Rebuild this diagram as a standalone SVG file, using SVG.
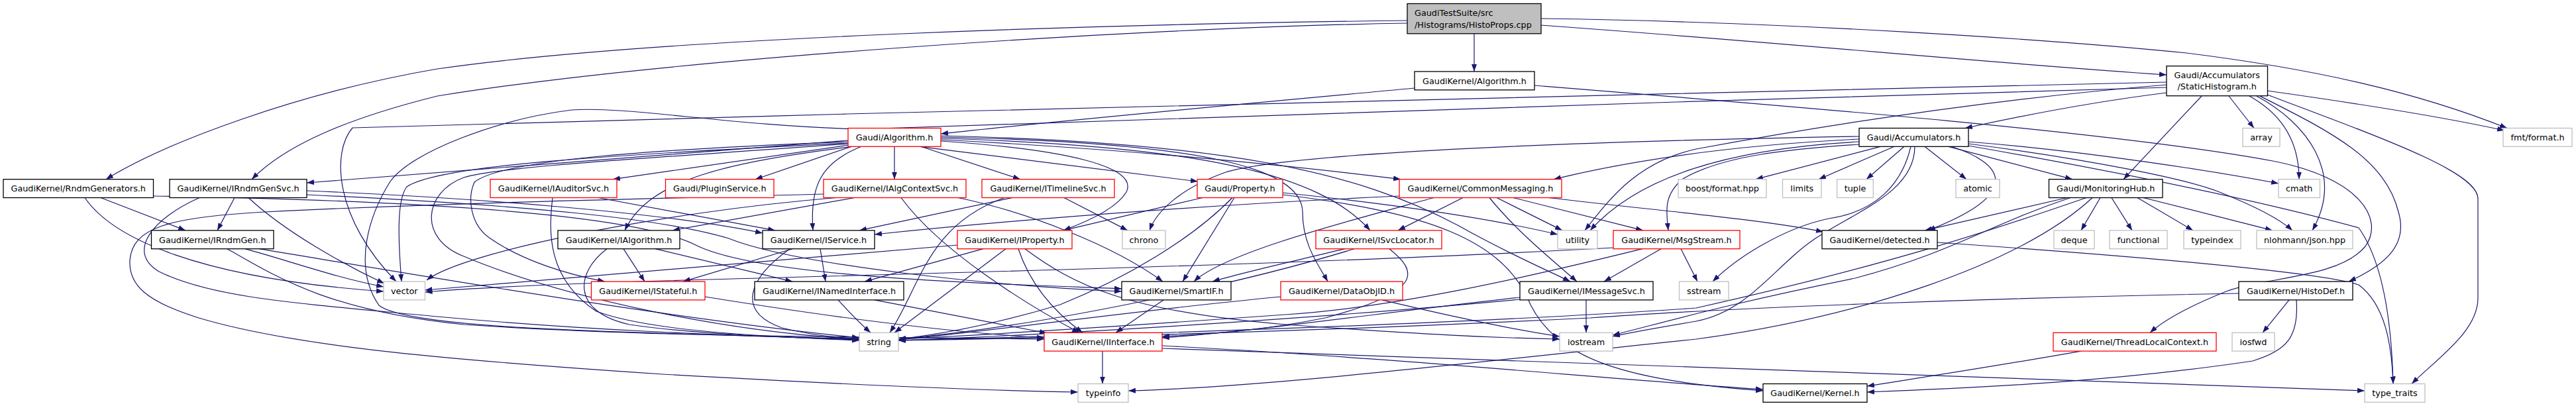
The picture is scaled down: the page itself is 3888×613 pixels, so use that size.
<svg xmlns="http://www.w3.org/2000/svg" width="3888" height="613" viewBox="0 0 3888 613">
<style>
.node rect{fill:#fff;stroke:#000;stroke-width:1.3}
.node.r rect{stroke:#ff0000}
.node.g rect{stroke:#bfbfbf}
.node.s rect{fill:#bfbfbf}
text{font-family:"DejaVu Sans",sans-serif;font-size:12.8px;fill:#000;text-anchor:middle}
.l text{text-anchor:start}
#edges path{fill:none;stroke:#191970;stroke-width:1.2;marker-end:url(#a)}
</style>
<defs>
<marker id="a" markerUnits="userSpaceOnUse" markerWidth="11" markerHeight="8" refX="11" refY="4" orient="auto">
<path d="M0,0 L11,4 L0,8 z" fill="#191970"/>
</marker>
</defs>
<rect width="3888" height="613" fill="#fff"/>
<g id="edges">
<path d="M2225,51 L2225,108"/>
<path d="M2124,31 C1700,36 1000,55 660,104 C450,140 250,215 160,270.7"/>
<path d="M2124,35 C1700,42 1000,90 660,145 C520,180 430,220 380,270.7"/>
<path d="M2326,38 C2700,65 3000,95 3270,113"/>
<path d="M2326,28 C2700,33 3100,60 3300,80 C3500,105 3650,140 3784,193.5"/>
<path d="M2135,133 C1900,155 1600,182 1420,202"/>
<path d="M2316,129 C2700,160 3200,200 3430,243 C3560,268 3600,330 3570,372 C3530,420 3420,418 3360,440 C3310,460 3270,480 3245,502.3"/>
<path d="M3270,140 C3150,155 3050,175 2966,193.5"/>
<path d="M3323,145 L3205,270.7"/>
<path d="M3364,145 L3402,193.5"/>
<path d="M3395,145 C3440,170 3470,210 3470,270.7"/>
<path d="M3406,145 C3480,185 3540,260 3490,347.9"/>
<path d="M3411,145 C3520,200 3600,240 3620,320 C3635,370 3600,400 3545,425.1"/>
<path d="M3422,143 C3600,210 3740,260 3740,300 L3740,450 C3740,500 3680,540 3640,579.5"/>
<path d="M3422,137 C3550,155 3680,175 3780,197"/>
<path d="M3270,128 C3000,150 2750,190 2560,225 C2470,245 2430,300 2392,347.9"/>
<path d="M3270,124 C2600,140 1500,165 1280,172 C1000,180 700,188 532,193 C500,230 505,330 598,425.1"/>
<path d="M3270,132 C2600,150 1500,188 1300,195 C1100,190 950,160 863,166 C750,180 620,230 589,274 C560,320 530,400 572,461 C620,500 1000,502 1297,512"/>
<path d="M1280,212 C1000,235 700,255 463,276"/>
<path d="M1281,216 C900,235 660,250 614,282 C600,300 600,350 606,425.1"/>
<path d="M1281,217 C1000,238 760,250 700,268 C640,290 630,360 700,387 C850,450 1100,502 1297,512"/>
<path d="M1281,219 L925,270.7"/>
<path d="M1285,221.3 L1140,270.7"/>
<path d="M1350,221.3 L1350,270.7"/>
<path d="M1390,221.3 L1540,270.7"/>
<path d="M1388,221.3 L1808,274"/>
<path d="M1420,213 C1600,225 1720,250 1700,290 C1685,315 1640,335 1605,347.9"/>
<path d="M1420,211 C1700,225 1950,250 2114,270.7"/>
<path d="M1420,209 C1800,220 1990,260 2068,347.9"/>
<path d="M1420,207 C1800,215 1965,250 1966,320 C1966,370 1990,400 2004,425.1"/>
<path d="M1420,205 C1850,215 2050,260 2200,340 C2280,385 2340,410 2370,425.1"/>
<path d="M1286,221.3 C1100,245 980,270 943,347.9"/>
<path d="M1300,221.3 C1240,245 1222,280 1227,347.9"/>
<path d="M1281,214 C1000,225 760,240 716,275 C705,300 710,340 740,360 C790,395 860,415 913,425.1"/>
<path d="M354,298.5 L328,347.9"/>
<path d="M375,298.5 C430,350 520,400 580,428"/>
<path d="M301,298.5 C230,330 190,380 240,410 C320,450 450,458 660,478 C900,500 1100,506 1297,513"/>
<path d="M463,288 C700,298 1000,320 1151,352"/>
<path d="M463,294 C800,310 1000,330 1100,360 C1200,400 1500,432 1693,440"/>
<path d="M152,298.5 L280,347.9"/>
<path d="M128,298.5 C170,360 300,420 579,440"/>
<path d="M231.5,296 C600,302 950,320 1050,370 C1150,420 1500,428 1693,436"/>
<path d="M370,375.7 C440,395 510,420 579,433"/>
<path d="M343,375.7 C420,420 500,470 700,490 C1000,510 1300,508 1576,512"/>
<path d="M391,375.7 C600,410 1000,480 1297,510"/>
<path d="M903,298.5 L1170,347.9"/>
<path d="M834,298.5 C828,350 825,420 900,470 C980,500 1150,508 1297,514"/>
<path d="M1290,298.5 L1015,347.9"/>
<path d="M1262,298.5 C1000,320 700,380 644,423"/>
<path d="M1446,298.5 C1550,320 1680,370 1755,425.1"/>
<path d="M1360,298.5 C1420,380 1550,460 1629,502.3"/>
<path d="M1243,293 C1000,300 700,305 400,320 C250,328 200,345 196,393 C194,430 220,455 300,480 C450,525 700,545 1000,565 C1300,582 1500,590 1627,592"/>
<path d="M1528,298.5 L1297,347.9"/>
<path d="M1516,298.5 C1400,340 1390,430 1343,502.3"/>
<path d="M1606,298.5 L1702,347.9"/>
<path d="M1815,298.5 L1605,347.9"/>
<path d="M1863,298.5 L1785,425.1"/>
<path d="M1860,298.5 C1800,360 1700,420 1600,460 C1500,490 1420,505 1356,512"/>
<path d="M1936,291 C2100,308 2250,330 2351,354"/>
<path d="M1936,294 C2150,320 2270,360 2310,460 C2350,540 2450,575 2661,590"/>
<path d="M2208,298.5 L2110,347.9"/>
<path d="M2259,298.5 L2358,347.9"/>
<path d="M2284,298.5 L2480,347.9"/>
<path d="M2248,298.5 C2290,350 2340,390 2380,425.1"/>
<path d="M2164,298.5 C2050,330 1850,380 1802,425.1"/>
<path d="M2337,298.5 C2500,318 2650,330 2752,350"/>
<path d="M2112,296 C1800,310 1500,335 1320,354"/>
<path d="M2097,375.7 C2140,410 2150,440 2000,480 C1900,500 1820,505 1754,508"/>
<path d="M2030,375.7 C1950,395 1880,410 1830,425.1"/>
<path d="M2044,375.7 C1900,420 1600,490 1356,512"/>
<path d="M2086,452.9 C2200,480 2300,500 2354,508"/>
<path d="M1933,448 C1700,470 1500,500 1356,513"/>
<path d="M2394,452.9 L2394,502.3"/>
<path d="M2294,449 C2100,470 1900,500 1754,510"/>
<path d="M2294,452 C2000,480 1600,505 1356,514"/>
<path d="M2507,375.7 L2421,425.1"/>
<path d="M2537,375.7 L2562,425.1"/>
<path d="M2435,374 C2000,398 1500,410 1000,424 C800,430 700,436 641.5,441"/>
<path d="M2479,375.7 C2300,420 2100,465 1940,475 C1700,492 1500,505 1356,512"/>
<path d="M2838,221.3 L2650,270.7"/>
<path d="M2859,221.3 L2745,270.7"/>
<path d="M2874,221.3 L2817,270.7"/>
<path d="M2905,221.3 L2968,270.7"/>
<path d="M2941,221.3 L3128,270.7"/>
<path d="M2945,221.3 C3020,245 3060,290 2910,347.9"/>
<path d="M2884,221.3 C2870,280 2830,320 2760,330 C2690,345 2620,390 2585,425.1"/>
<path d="M2890,221.3 C2890,290 2800,320 2740,360 C2680,400 2640,470 2560,485 C2500,495 2460,502 2434,508"/>
<path d="M2806,218 C2700,225 2600,235 2540,270 C2510,295 2515,320 2518,347.9"/>
<path d="M2806,214 C2600,225 2470,270 2400,347.9"/>
<path d="M2806,210 C2600,220 2450,245 2345,270.7"/>
<path d="M2806,206 C2400,213 1950,230 1850,260 C1780,285 1745,320 1735,347.9"/>
<path d="M2971,214 C3150,228 3350,260 3439,277"/>
<path d="M2971,217 C3150,240 3300,270 3350,290 C3400,310 3440,330 3460,347.9"/>
<path d="M2971,220 C3200,260 3400,300 3560,344 C3600,400 3610,500 3612,579.5"/>
<path d="M3170,298.5 L3141,347.9"/>
<path d="M3187,298.5 L3218,347.9"/>
<path d="M3226,298.5 L3310,347.9"/>
<path d="M3235,298.5 L3430,347.9"/>
<path d="M3120,298.5 L2905,347.9"/>
<path d="M3149,298.5 C3000,350 2850,400 2560,465 C2200,490 1700,505 1356,514"/>
<path d="M3158,298.5 C3050,400 2800,480 2560,512 C2200,550 1900,585 1703,590"/>
<path d="M3125,298.5 C3000,340 2950,380 2800,420 C2600,460 2500,490 2434,506"/>
<path d="M2924,366 C3200,385 3500,410 3560,430 C3600,460 3610,520 3612,579.5"/>
<path d="M3455,452.9 L3415,502.3"/>
<path d="M3466,452.9 C3470,510 3450,530 3400,545 C3200,575 3000,585 2818,592"/>
<path d="M3379,443 C3000,450 2600,465 2400,480 C2000,500 1600,510 1356,514"/>
<path d="M1664,530.1 L1664,579.5"/>
<path d="M1754,522 C2100,540 2400,570 2661,588"/>
<path d="M1754,526 C2300,545 3000,570 3569,590"/>
<path d="M3141,530.1 C3000,555 2900,570 2818,583"/>
<path d="M941,375.7 L973,425.1"/>
<path d="M989,375.7 L1196,425.1"/>
<path d="M916,375.7 C870,410 860,470 950,490 C1050,505 1200,510 1297,513"/>
<path d="M1238,375.7 L1246,425.1"/>
<path d="M1196,375.7 L1031,425.1"/>
<path d="M1192,375.7 C1130,420 1110,470 1180,495 C1220,505 1260,510 1297,511"/>
<path d="M1064,448 C1200,470 1400,500 1576,510"/>
<path d="M1320,452.9 L1580,503"/>
<path d="M1265,452.9 C1285,475 1300,490 1314,502.3"/>
<path d="M1484,375.7 L1305,425.1"/>
<path d="M1518,375.7 L1350,502.3"/>
<path d="M1537,375.7 C1555,430 1590,470 1634,502.3"/>
<path d="M1547,375.7 C1620,430 1700,470 1940,490 C2150,505 2250,510 2354,512"/>
<path d="M1445,370 C1100,400 800,425 641.5,438"/>
<path d="M1756,452.9 L1684,502.3"/>
</g>
<g id="n0" class="node s l"><rect x="2124" y="5.5" width="202" height="45.3"/><text x="2135" y="24">GaudiTestSuite/src</text><text x="2135" y="41.5">/Histograms/HistoProps.cpp</text></g>
<g id="n1" class="node"><rect x="2135" y="108" width="181" height="27.8"/><text x="2225.5" y="126.6">GaudiKernel/Algorithm.h</text></g>
<g id="n2" class="node"><rect x="3270" y="99.7" width="152.5" height="45"/><text x="3346.25" y="118">Gaudi/Accumulators</text><text x="3346.25" y="134.8">/StaticHistogram.h</text></g>
<g id="n3" class="node r"><rect x="1280" y="193.5" width="140" height="27.8"/><text x="1350" y="212.1">Gaudi/Algorithm.h</text></g>
<g id="n4" class="node"><rect x="2806" y="193.5" width="165" height="27.8"/><text x="2888.5" y="212.1">Gaudi/Accumulators.h</text></g>
<g id="n5" class="node g"><rect x="3385" y="193.5" width="56" height="27.8"/><text x="3413" y="212.1">array</text></g>
<g id="n6" class="node g"><rect x="3778" y="193.5" width="104" height="27.8"/><text x="3830" y="212.1">fmt/format.h</text></g>
<g id="n7" class="node"><rect x="5" y="270.7" width="226.5" height="27.8"/><text x="118.25" y="289.3">GaudiKernel/RndmGenerators.h</text></g>
<g id="n8" class="node"><rect x="256" y="270.7" width="207" height="27.8"/><text x="359.5" y="289.3">GaudiKernel/IRndmGenSvc.h</text></g>
<g id="n9" class="node r"><rect x="740" y="270.7" width="191" height="27.8"/><text x="835.5" y="289.3">GaudiKernel/IAuditorSvc.h</text></g>
<g id="n10" class="node r"><rect x="1004.5" y="270.7" width="163.5" height="27.8"/><text x="1086.25" y="289.3">Gaudi/PluginService.h</text></g>
<g id="n11" class="node r"><rect x="1243" y="270.7" width="215" height="27.8"/><text x="1350.5" y="289.3">GaudiKernel/IAlgContextSvc.h</text></g>
<g id="n12" class="node r"><rect x="1482" y="270.7" width="200" height="27.8"/><text x="1582" y="289.3">GaudiKernel/ITimelineSvc.h</text></g>
<g id="n13" class="node r"><rect x="1807" y="270.7" width="129" height="27.8"/><text x="1871.5" y="289.3">Gaudi/Property.h</text></g>
<g id="n14" class="node r"><rect x="2112" y="270.7" width="245" height="27.8"/><text x="2234.5" y="289.3">GaudiKernel/CommonMessaging.h</text></g>
<g id="n15" class="node g"><rect x="2533" y="270.7" width="133" height="27.8"/><text x="2599.5" y="289.3">boost/format.hpp</text></g>
<g id="n16" class="node g"><rect x="2690.5" y="270.7" width="58.5" height="27.8"/><text x="2719.75" y="289.3">limits</text></g>
<g id="n17" class="node g"><rect x="2772.6" y="270.7" width="54.7" height="27.8"/><text x="2800" y="289.3">tuple</text></g>
<g id="n18" class="node g"><rect x="2952" y="270.7" width="66" height="27.8"/><text x="2985" y="289.3">atomic</text></g>
<g id="n19" class="node"><rect x="3092.5" y="270.7" width="171.5" height="27.8"/><text x="3178.25" y="289.3">Gaudi/MonitoringHub.h</text></g>
<g id="n20" class="node g"><rect x="3439" y="270.7" width="62.5" height="27.8"/><text x="3470.25" y="289.3">cmath</text></g>
<g id="n21" class="node"><rect x="228.5" y="347.9" width="184.5" height="27.8"/><text x="320.75" y="366.5">GaudiKernel/IRndmGen.h</text></g>
<g id="n22" class="node"><rect x="842" y="347.9" width="184" height="27.8"/><text x="934" y="366.5">GaudiKernel/IAlgorithm.h</text></g>
<g id="n23" class="node"><rect x="1151" y="347.9" width="169" height="27.8"/><text x="1235.5" y="366.5">GaudiKernel/IService.h</text></g>
<g id="n24" class="node r"><rect x="1445" y="347.9" width="173" height="27.8"/><text x="1531.5" y="366.5">GaudiKernel/IProperty.h</text></g>
<g id="n25" class="node g"><rect x="1694" y="347.9" width="65" height="27.8"/><text x="1726.5" y="366.5">chrono</text></g>
<g id="n26" class="node r"><rect x="1986" y="347.9" width="190" height="27.8"/><text x="2081" y="366.5">GaudiKernel/ISvcLocator.h</text></g>
<g id="n27" class="node g"><rect x="2351" y="347.9" width="60" height="27.8"/><text x="2381" y="366.5">utility</text></g>
<g id="n28" class="node r"><rect x="2435" y="347.9" width="191" height="27.8"/><text x="2530.5" y="366.5">GaudiKernel/MsgStream.h</text></g>
<g id="n29" class="node"><rect x="2750" y="347.9" width="174" height="27.8"/><text x="2837" y="366.5">GaudiKernel/detected.h</text></g>
<g id="n30" class="node g"><rect x="3100" y="347.9" width="61" height="27.8"/><text x="3130.5" y="366.5">deque</text></g>
<g id="n31" class="node g"><rect x="3184" y="347.9" width="87" height="27.8"/><text x="3227.5" y="366.5">functional</text></g>
<g id="n32" class="node g"><rect x="3296" y="347.9" width="86" height="27.8"/><text x="3339" y="366.5">typeindex</text></g>
<g id="n33" class="node g"><rect x="3406" y="347.9" width="145" height="27.8"/><text x="3478.5" y="366.5">nlohmann/json.hpp</text></g>
<g id="n34" class="node g"><rect x="579" y="425.1" width="62.5" height="27.8"/><text x="610.25" y="443.7">vector</text></g>
<g id="n35" class="node r"><rect x="892.5" y="425.1" width="171.5" height="27.8"/><text x="978.25" y="443.7">GaudiKernel/IStateful.h</text></g>
<g id="n36" class="node"><rect x="1139" y="425.1" width="225" height="27.8"/><text x="1251.5" y="443.7">GaudiKernel/INamedInterface.h</text></g>
<g id="n37" class="node"><rect x="1693" y="425.1" width="165" height="27.8"/><text x="1775.5" y="443.7">GaudiKernel/SmartIF.h</text></g>
<g id="n38" class="node r"><rect x="1933" y="425.1" width="184" height="27.8"/><text x="2025" y="443.7">GaudiKernel/DataObjID.h</text></g>
<g id="n39" class="node"><rect x="2294" y="425.1" width="201" height="27.8"/><text x="2394.5" y="443.7">GaudiKernel/IMessageSvc.h</text></g>
<g id="n40" class="node g"><rect x="2534.5" y="425.1" width="74.5" height="27.8"/><text x="2571.75" y="443.7">sstream</text></g>
<g id="n41" class="node"><rect x="3379" y="425.1" width="172" height="27.8"/><text x="3465" y="443.7">GaudiKernel/HistoDef.h</text></g>
<g id="n42" class="node g"><rect x="1297" y="502.3" width="59" height="27.8"/><text x="1326.5" y="520.9">string</text></g>
<g id="n43" class="node r"><rect x="1576" y="502.3" width="178" height="27.8"/><text x="1665" y="520.9">GaudiKernel/IInterface.h</text></g>
<g id="n44" class="node g"><rect x="2354" y="502.3" width="80" height="27.8"/><text x="2394" y="520.9">iostream</text></g>
<g id="n45" class="node r"><rect x="3099" y="502.3" width="246" height="27.8"/><text x="3222" y="520.9">GaudiKernel/ThreadLocalContext.h</text></g>
<g id="n46" class="node g"><rect x="3369" y="502.3" width="64" height="27.8"/><text x="3401" y="520.9">iosfwd</text></g>
<g id="n47" class="node g"><rect x="1627" y="579.5" width="76" height="27.8"/><text x="1665" y="598.1">typeinfo</text></g>
<g id="n48" class="node"><rect x="2661" y="579.5" width="157" height="27.8"/><text x="2739.5" y="598.1">GaudiKernel/Kernel.h</text></g>
<g id="n49" class="node g"><rect x="3569" y="579.5" width="91" height="27.8"/><text x="3614.5" y="598.1">type_traits</text></g>
</svg>
